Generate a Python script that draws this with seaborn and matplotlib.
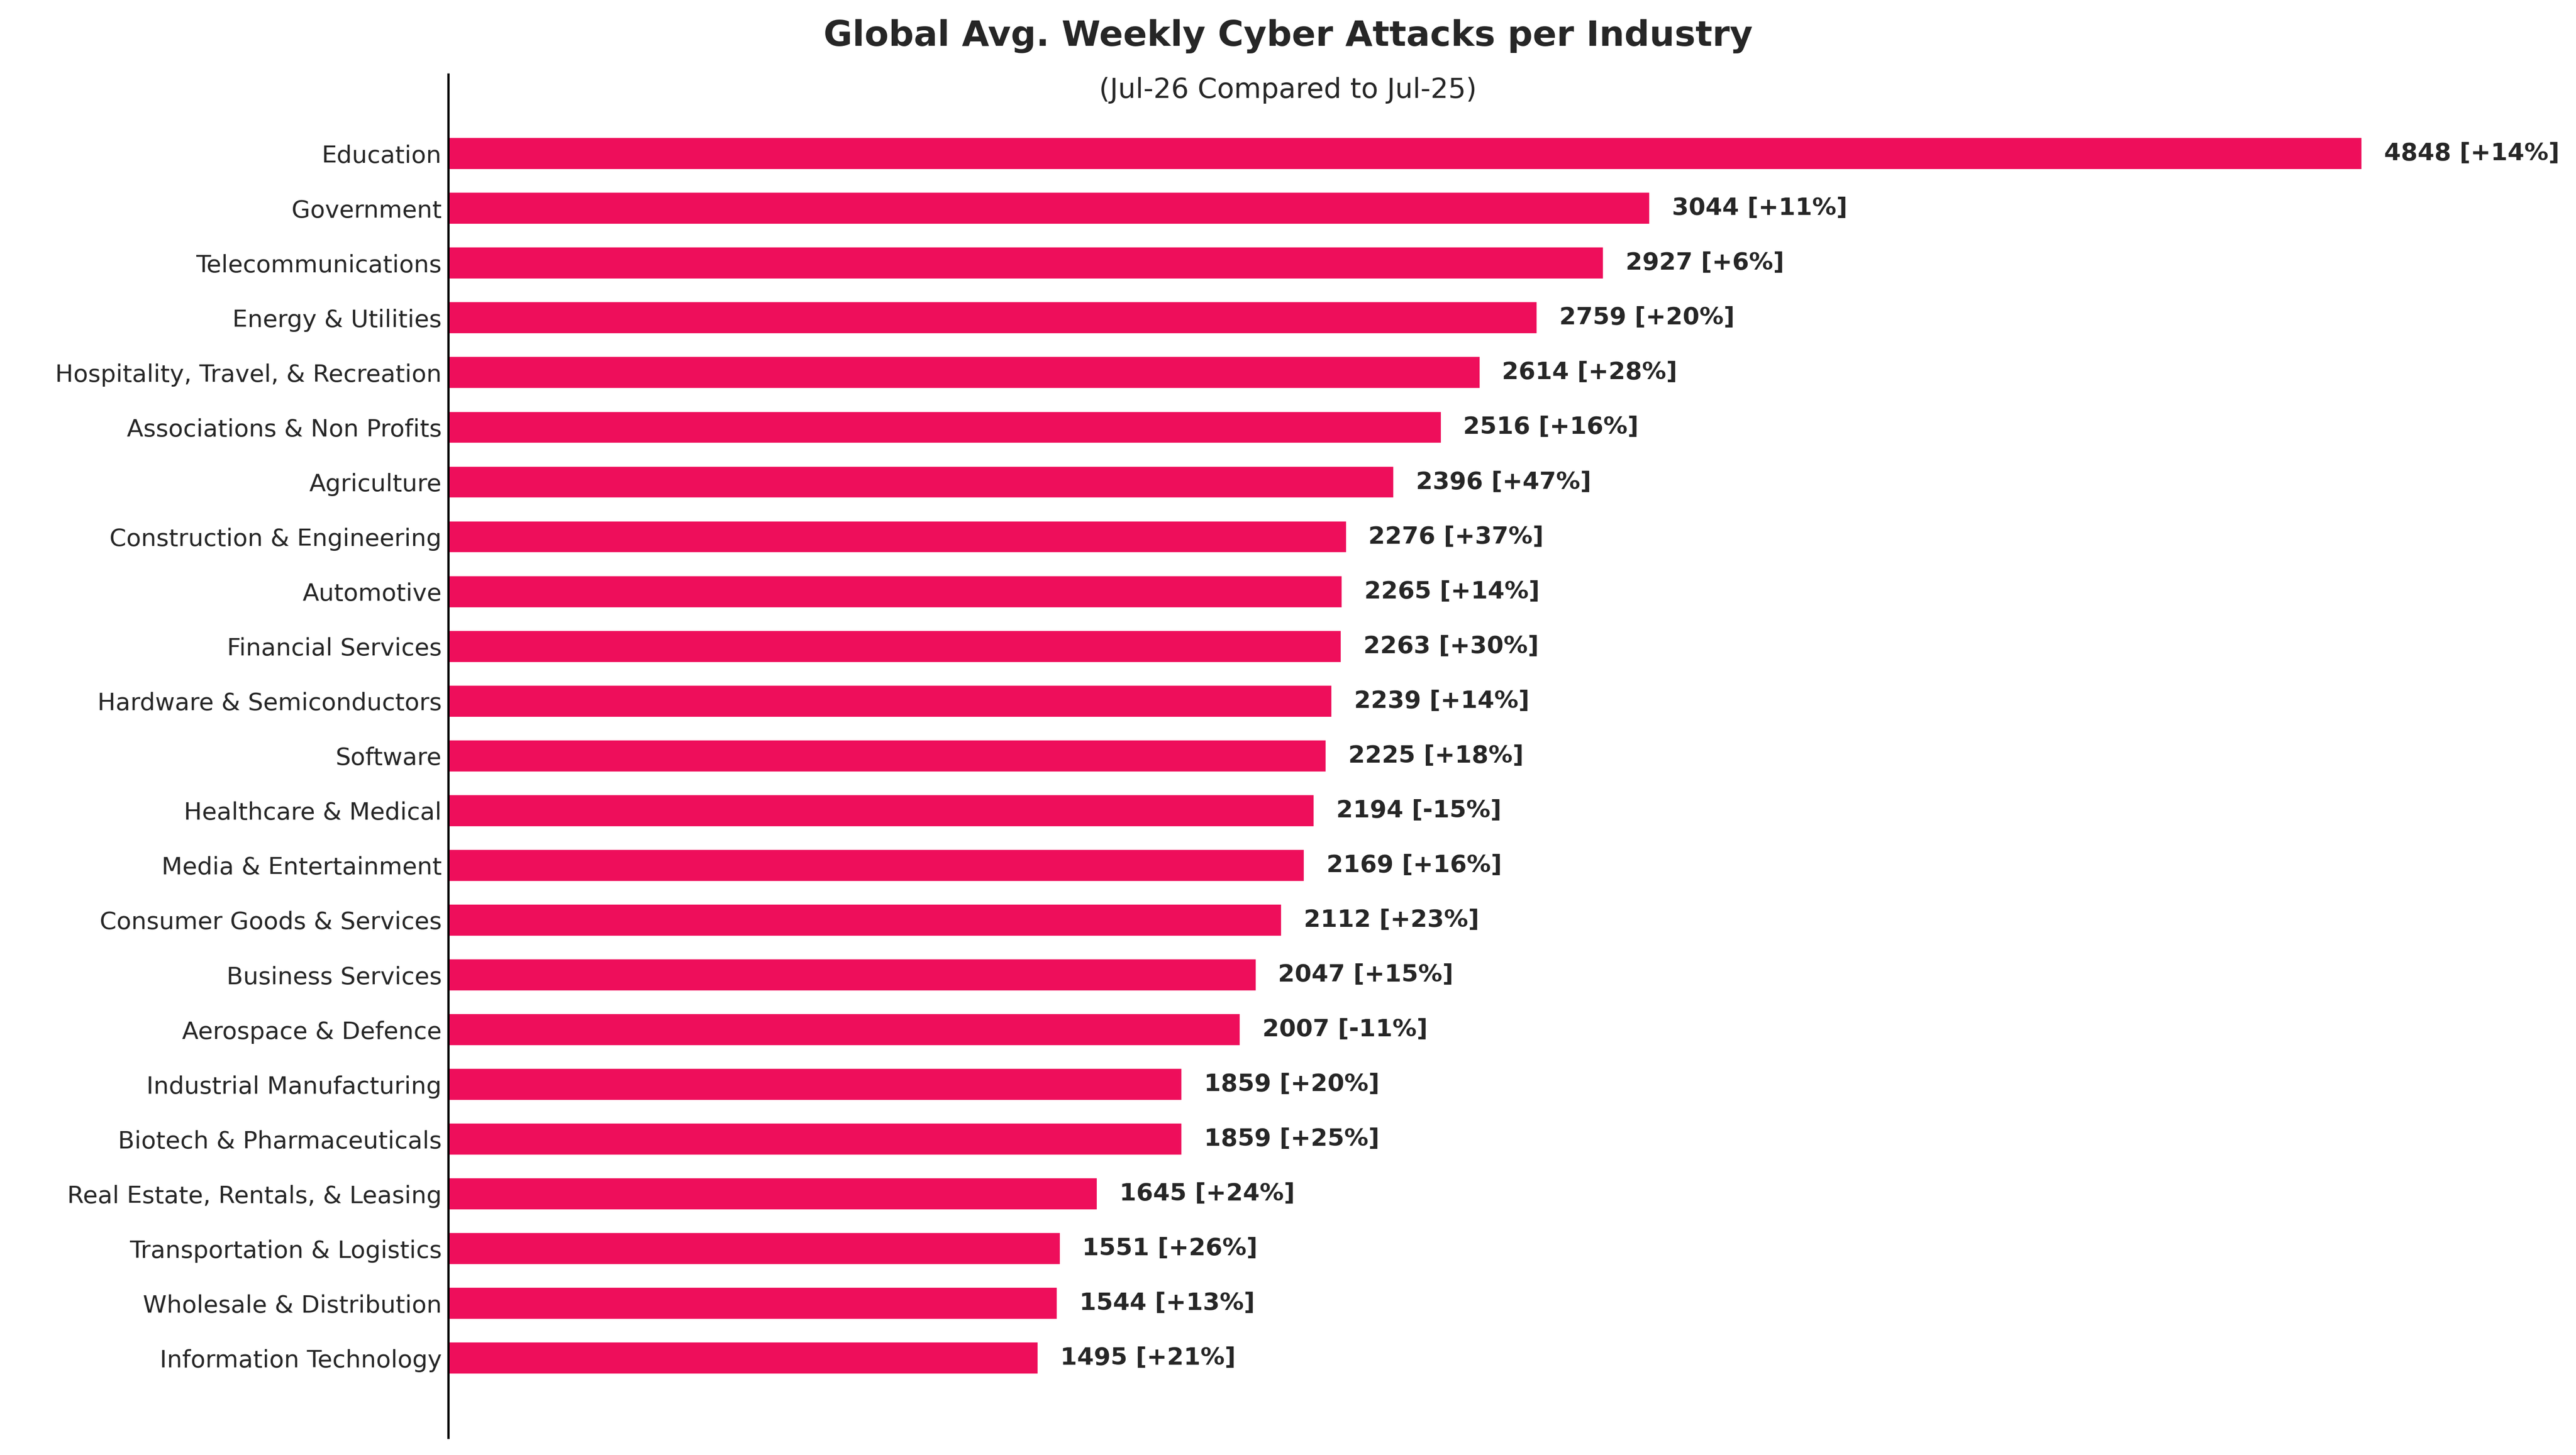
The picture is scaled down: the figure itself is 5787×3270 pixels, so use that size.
import matplotlib
matplotlib.use("Agg")
import matplotlib.pyplot as plt
import seaborn as sns
import pandas as pd

industries = ["Education", "Government", "Telecommunications", "Energy & Utilities",
              "Hospitality, Travel, & Recreation", "Associations & Non Profits", "Agriculture",
              "Construction & Engineering", "Automotive", "Financial Services",
              "Hardware & Semiconductors", "Software", "Healthcare & Medical",
              "Media & Entertainment", "Consumer Goods & Services", "Business Services",
              "Aerospace & Defence", "Industrial Manufacturing", "Biotech & Pharmaceuticals",
              "Real Estate, Rentals, & Leasing", "Transportation & Logistics",
              "Wholesale & Distribution", "Information Technology"]
attacks = [4848, 3044, 2927, 2759, 2614, 2516, 2396, 2276, 2265, 2263, 2239, 2225,
           2194, 2169, 2112, 2047, 2007, 1859, 1859, 1645, 1551, 1544, 1495]
changes = ["+14%", "+11%", "+6%", "+20%", "+28%", "+16%", "+47%", "+37%", "+14%", "+30%",
           "+14%", "+18%", "-15%", "+16%", "+23%", "+15%", "-11%", "+20%", "+25%", "+24%",
           "+26%", "+13%", "+21%"]

df = pd.DataFrame({"industry": industries, "attacks": attacks})

sns.set_style("white")
plt.rcParams['font.family'] = ['DejaVu Sans']
fig = plt.figure(figsize=(19.29, 10.9), dpi=300)
ax = fig.add_axes([0.174, 0.012, 0.82, 0.937])
sns.barplot(data=df, x="attacks", y="industry", color="#EE0E5B", saturation=1,
            width=0.6, ax=ax)
for i, (v, c) in enumerate(zip(attacks, changes)):
    ax.text(v + 55, i, f"{v} [{c}]", va="center", ha="left", fontsize=13, fontweight="bold")

ax.set_xlim(0, 5350)
ax.set_ylim(len(industries) - 1 + 1.45, -1.45)
ax.set_xlabel("")
ax.set_ylabel("")
ax.set_xticks([])
ax.tick_params(axis="y", labelsize=13, length=0)
for s in ["top", "right", "bottom"]:
    ax.spines[s].set_visible(False)
ax.spines["left"].set_color("black")
ax.spines["left"].set_linewidth(1.2)
fig.text(0.5, 0.975, "Global Avg. Weekly Cyber Attacks per Industry", ha="center",
         va="center", fontsize=19, fontweight="bold")
fig.text(0.5, 0.938, "(Jul-26 Compared to Jul-25)", ha="center", va="center", fontsize=15)
fig.savefig("out.png", dpi=300)
